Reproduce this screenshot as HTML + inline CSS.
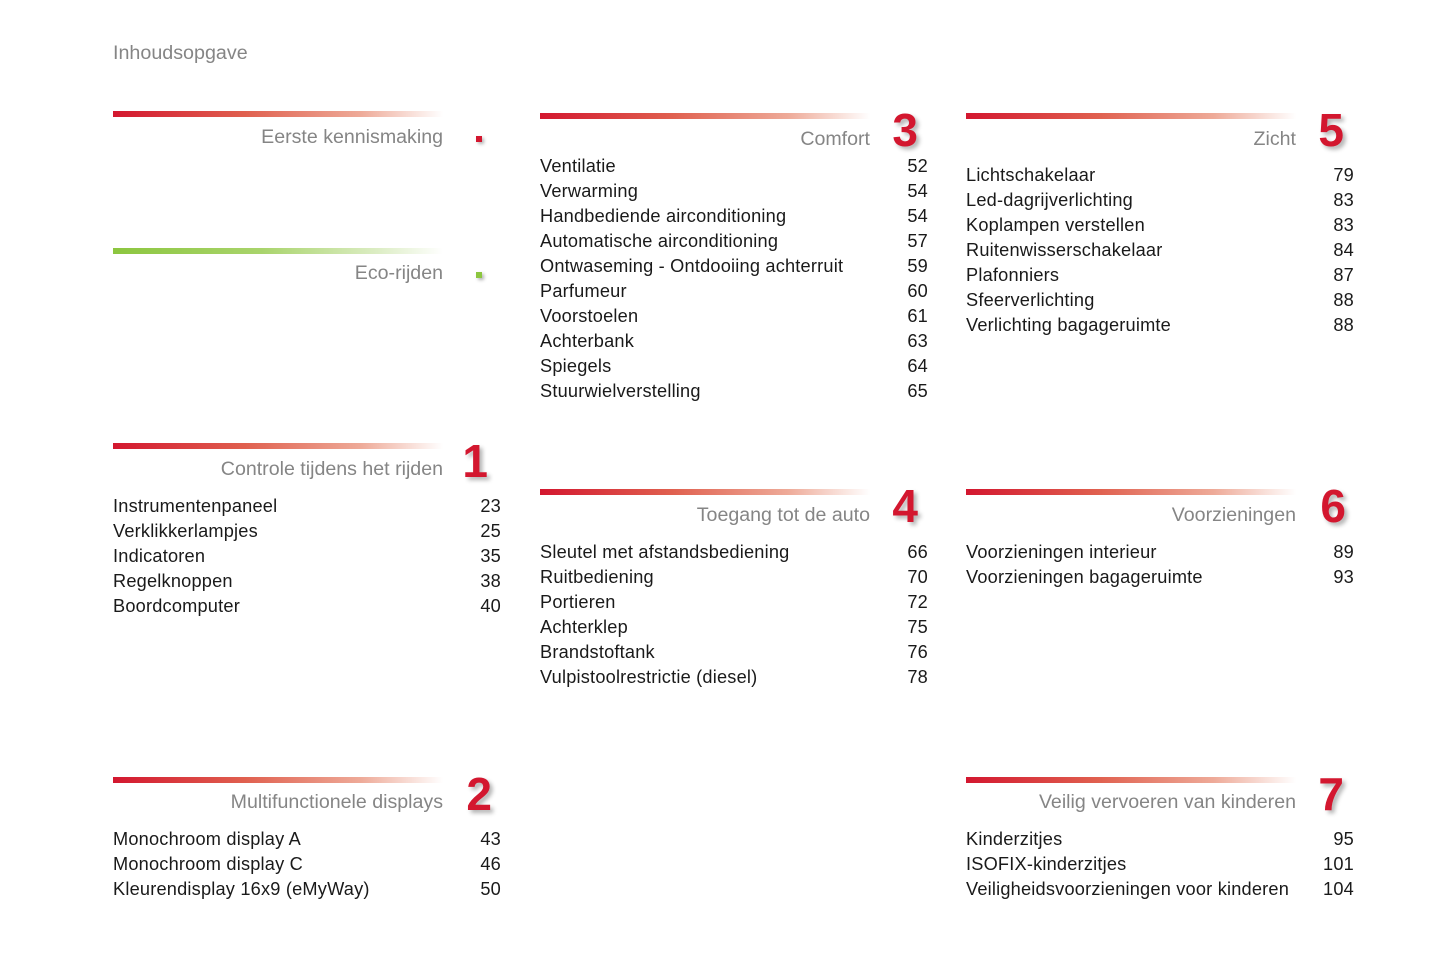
<!DOCTYPE html>
<html><head><meta charset="utf-8"><style>
body{margin:0;width:1445px;height:964px;background:#fff;position:relative;overflow:hidden;font-family:"Liberation Sans",Arial,sans-serif}
.t{position:absolute;height:24px;line-height:24px;white-space:nowrap}
.i{font-size:18.2px;letter-spacing:0.2px;color:#1a1a1a}
.n{font-size:18.2px;letter-spacing:0.2px;color:#1a1a1a;text-align:right;width:60px}
.h{font-size:19.6px;color:#858585;text-align:right;width:330px}
.bar{position:absolute;height:6px;width:330px;background:linear-gradient(to right,#d3172f 0%,#e0604f 40%,#eeaa98 75%,rgba(255,255,255,0) 100%)}
.g{background:linear-gradient(to right,#8cc63f 0%,#a9d46c 45%,#dcedc4 80%,rgba(255,255,255,0) 100%)}
.big{position:absolute;font-size:46px;font-weight:bold;color:#d3172f;line-height:46px;text-shadow:3px 3px 4px rgba(0,0,0,.3);text-align:right;width:60px}
.sq{position:absolute;width:6px;height:6px;box-shadow:2px 2px 3px rgba(0,0,0,.3)}
</style></head><body>
<div class="t" style="left:113px;top:41px;font-size:19.7px;color:#858585">Inhoudsopgave</div>

<div class="bar" style="left:113px;top:111px"></div>
<div class="t h" style="left:113px;top:125px">Eerste kennismaking</div>
<div class="sq" style="left:476px;top:136px;background:#d3172f"></div>

<div class="bar g" style="left:113px;top:248px"></div>
<div class="t h" style="left:113px;top:261px">Eco-rijden</div>
<div class="sq" style="left:476px;top:272px;background:#8cc63f"></div>

<div class="bar" style="left:113px;top:443px"></div>
<div class="t h" style="left:113px;top:457px">Controle tijdens het rijden</div>
<div class="big" style="left:428px;top:438px">1</div>

<div class="bar" style="left:113px;top:777px"></div>
<div class="t h" style="left:113px;top:790px">Multifunctionele displays</div>
<div class="big" style="left:432px;top:771px">2</div>

<div class="bar" style="left:540px;top:113px"></div>
<div class="t h" style="left:540px;top:127px">Comfort</div>
<div class="big" style="left:858px;top:107px">3</div>

<div class="bar" style="left:540px;top:489px"></div>
<div class="t h" style="left:540px;top:503px">Toegang tot de auto</div>
<div class="big" style="left:858px;top:483px">4</div>

<div class="bar" style="left:966px;top:113px"></div>
<div class="t h" style="left:966px;top:127px">Zicht</div>
<div class="big" style="left:1284px;top:107px">5</div>

<div class="bar" style="left:966px;top:489px"></div>
<div class="t h" style="left:966px;top:503px">Voorzieningen</div>
<div class="big" style="left:1286px;top:483px">6</div>

<div class="bar" style="left:966px;top:777px"></div>
<div class="t h" style="left:966px;top:790px">Veilig vervoeren van kinderen</div>
<div class="big" style="left:1284px;top:771px">7</div>

<!-- col1 items -->
<div class="t i" style="left:113px;top:494px">Instrumentenpaneel</div><div class="t n" style="left:441px;top:494px">23</div>
<div class="t i" style="left:113px;top:519px">Verklikkerlampjes</div><div class="t n" style="left:441px;top:519px">25</div>
<div class="t i" style="left:113px;top:544px">Indicatoren</div><div class="t n" style="left:441px;top:544px">35</div>
<div class="t i" style="left:113px;top:569px">Regelknoppen</div><div class="t n" style="left:441px;top:569px">38</div>
<div class="t i" style="left:113px;top:594px">Boordcomputer</div><div class="t n" style="left:441px;top:594px">40</div>

<div class="t i" style="left:113px;top:827px">Monochroom display A</div><div class="t n" style="left:441px;top:827px">43</div>
<div class="t i" style="left:113px;top:852px">Monochroom display C</div><div class="t n" style="left:441px;top:852px">46</div>
<div class="t i" style="left:113px;top:877px">Kleurendisplay 16x9 (eMyWay)</div><div class="t n" style="left:441px;top:877px">50</div>

<!-- col2 -->
<div class="t i" style="left:540px;top:154px">Ventilatie</div><div class="t n" style="left:868px;top:154px">52</div>
<div class="t i" style="left:540px;top:179px">Verwarming</div><div class="t n" style="left:868px;top:179px">54</div>
<div class="t i" style="left:540px;top:204px">Handbediende airconditioning</div><div class="t n" style="left:868px;top:204px">54</div>
<div class="t i" style="left:540px;top:229px">Automatische airconditioning</div><div class="t n" style="left:868px;top:229px">57</div>
<div class="t i" style="left:540px;top:254px">Ontwaseming - Ontdooiing achterruit</div><div class="t n" style="left:868px;top:254px">59</div>
<div class="t i" style="left:540px;top:279px">Parfumeur</div><div class="t n" style="left:868px;top:279px">60</div>
<div class="t i" style="left:540px;top:304px">Voorstoelen</div><div class="t n" style="left:868px;top:304px">61</div>
<div class="t i" style="left:540px;top:329px">Achterbank</div><div class="t n" style="left:868px;top:329px">63</div>
<div class="t i" style="left:540px;top:354px">Spiegels</div><div class="t n" style="left:868px;top:354px">64</div>
<div class="t i" style="left:540px;top:379px">Stuurwielverstelling</div><div class="t n" style="left:868px;top:379px">65</div>

<div class="t i" style="left:540px;top:540px">Sleutel met afstandsbediening</div><div class="t n" style="left:868px;top:540px">66</div>
<div class="t i" style="left:540px;top:565px">Ruitbediening</div><div class="t n" style="left:868px;top:565px">70</div>
<div class="t i" style="left:540px;top:590px">Portieren</div><div class="t n" style="left:868px;top:590px">72</div>
<div class="t i" style="left:540px;top:615px">Achterklep</div><div class="t n" style="left:868px;top:615px">75</div>
<div class="t i" style="left:540px;top:640px">Brandstoftank</div><div class="t n" style="left:868px;top:640px">76</div>
<div class="t i" style="left:540px;top:665px">Vulpistoolrestrictie (diesel)</div><div class="t n" style="left:868px;top:665px">78</div>

<!-- col3 -->
<div class="t i" style="left:966px;top:163px">Lichtschakelaar</div><div class="t n" style="left:1294px;top:163px">79</div>
<div class="t i" style="left:966px;top:188px">Led-dagrijverlichting</div><div class="t n" style="left:1294px;top:188px">83</div>
<div class="t i" style="left:966px;top:213px">Koplampen verstellen</div><div class="t n" style="left:1294px;top:213px">83</div>
<div class="t i" style="left:966px;top:238px">Ruitenwisserschakelaar</div><div class="t n" style="left:1294px;top:238px">84</div>
<div class="t i" style="left:966px;top:263px">Plafonniers</div><div class="t n" style="left:1294px;top:263px">87</div>
<div class="t i" style="left:966px;top:288px">Sfeerverlichting</div><div class="t n" style="left:1294px;top:288px">88</div>
<div class="t i" style="left:966px;top:313px">Verlichting bagageruimte</div><div class="t n" style="left:1294px;top:313px">88</div>

<div class="t i" style="left:966px;top:540px">Voorzieningen interieur</div><div class="t n" style="left:1294px;top:540px">89</div>
<div class="t i" style="left:966px;top:565px">Voorzieningen bagageruimte</div><div class="t n" style="left:1294px;top:565px">93</div>

<div class="t i" style="left:966px;top:827px">Kinderzitjes</div><div class="t n" style="left:1294px;top:827px">95</div>
<div class="t i" style="left:966px;top:852px">ISOFIX-kinderzitjes</div><div class="t n" style="left:1294px;top:852px">101</div>
<div class="t i" style="left:966px;top:877px">Veiligheidsvoorzieningen voor kinderen</div><div class="t n" style="left:1294px;top:877px">104</div>
</body></html>
